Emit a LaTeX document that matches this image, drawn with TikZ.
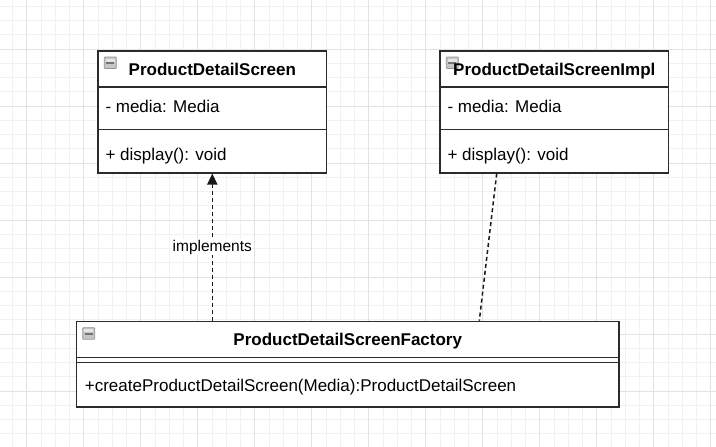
\documentclass[tikz,border=0pt]{standalone}
\usepackage{fontspec}
\setmainfont{Liberation Sans}
\usetikzlibrary{arrows.meta,calc}

\definecolor{gridminor}{HTML}{F1F1F1}
\definecolor{gridmajor}{HTML}{E2E2E2}
\definecolor{frame}{HTML}{2B2B2B}

\tikzset{
  classbox/.style={draw=frame, line width=1.5pt, fill=white, inner sep=0pt,
    anchor=north west, minimum width=228.5pt},
  divider/.style={draw=frame, line width=1.5pt},
  classname/.style={font=\fontsize{17}{20}\selectfont\bfseries, anchor=base, inner sep=0pt},
  member/.style={font=\fontsize{17}{20}\selectfont, anchor=base west, inner sep=0pt},
  dep/.style={line width=1.5pt, draw=black!90, dash pattern=on 4pt off 3pt},
  minusicon/.pic={
    \draw[gray!85, fill=gray!45, line width=0.8pt, rounded corners=0.8pt] (0,0) rectangle (12,11.5);
    \fill[gray!20] (1.5,1.5) rectangle (10.5,4.6);
    \fill[gray!90!black] (2,4.8) rectangle (10,7);
  }
}

\begin{document}
\begin{tikzpicture}[x=1pt, y=-1pt]
  \useasboundingbox (0,0) rectangle (716,447);
  \fill[white] (0,0) rectangle (716,447);

  % grid
  \foreach \i in {0,...,50} {
    \draw[gridminor, line width=0.8pt] (12.45+14.25*\i,0) -- ++(0,447);
    \draw[gridminor, line width=0.8pt] (0,6.25+14.25*\i) -- ++(716,0);
  }
  \foreach \i in {0,...,12} {
    \draw[gridmajor, line width=0.9pt] (26.7+57*\i,0) -- ++(0,447);
    \draw[gridmajor, line width=0.9pt] (0,-8+57*\i) -- ++(716,0);
  }

  % interface
  \node[classbox, minimum height=122pt] (pds) at (97.3,50) {};
  \draw[divider] ($(pds.north west)+(0,37)$) -- ($(pds.north east)+(0,37)$);
  \draw[divider] ($(pds.north west)+(0,79.5)$) -- ($(pds.north east)+(0,79.5)$);
  \pic at ($(pds.north west)+(7,7)$) {minusicon};
  \node[classname] (pdsname) at ($(pds.north)+(0,25)$) {ProductDetailScreen};
  \node[member] (pdsattr) at ($(pds.north west)+(8,62.7)$) {- media: Media};
  \node[member] (pdsop) at ($(pds.north west)+(8,110.7)$) {+ display(): void};

  % implementation
  \node[classbox, minimum height=122pt] (impl) at (439.3,50) {};
  \draw[divider] ($(impl.north west)+(0,37)$) -- ($(impl.north east)+(0,37)$);
  \draw[divider] ($(impl.north west)+(0,79.5)$) -- ($(impl.north east)+(0,79.5)$);
  \pic at ($(impl.north west)+(7,7)$) {minusicon};
  \node[classname] (implname) at ($(impl.north)+(0,25)$) {ProductDetailScreenImpl};
  \node[member] (implattr) at ($(impl.north west)+(8,62.7)$) {- media: Media};
  \node[member] (implop) at ($(impl.north west)+(8,110.7)$) {+ display(): void};

  % factory
  \node[classbox, minimum width=542.6pt, minimum height=85.3pt] (fac) at (75.7,320.7) {};
  \draw[divider] ($(fac.north west)+(0,36.6)$) -- ($(fac.north east)+(0,36.6)$);
  \draw[divider] ($(fac.north west)+(0,41.6)$) -- ($(fac.north east)+(0,41.6)$);
  \pic at ($(fac.north west)+(7,7)$) {minusicon};
  \node[classname] (facname) at ($(fac.north)+(0,25)$) {ProductDetailScreenFactory};
  \node[member] (facop) at ($(fac.north west)+(9,70.5)$) {+createProductDetailScreen(Media):ProductDetailScreen};

  % relations
  \draw[dep, -{Triangle[width=10pt, length=11pt]}] (fac.north -| pds.south) -- (pds.south)
    node[pos=0.5, fill=white, inner sep=1pt, font=\fontsize{15.5}{18}\selectfont] (impllabel) {implements};
  \draw[dep] ($(impl.south west)+(57.4,0)$) -- ($(fac.north west)+(403.6,0)$);
\end{tikzpicture}
\end{document}
